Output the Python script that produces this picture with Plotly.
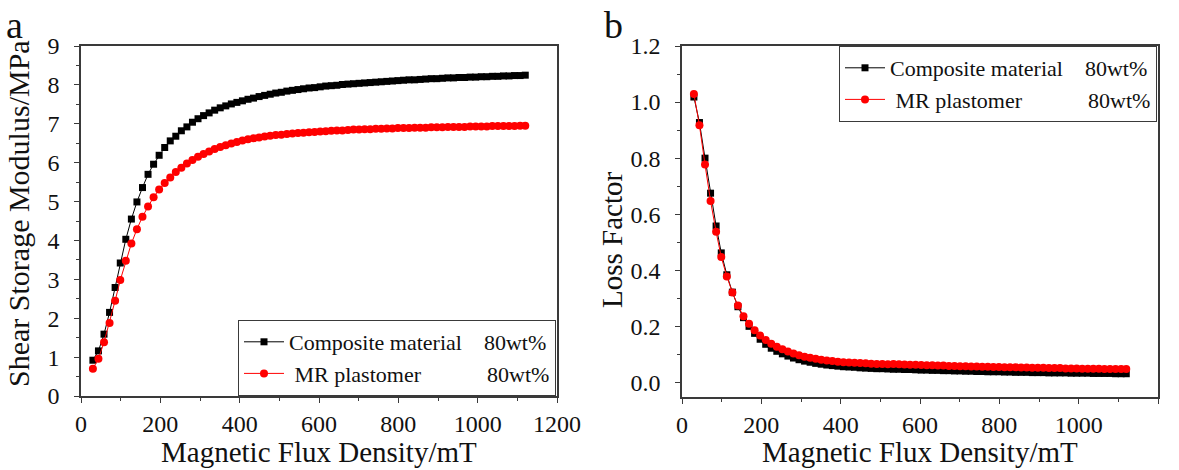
import plotly.graph_objects as go

# Magnetic flux density sweep (mT)
flux_density = [30, 44, 58, 72, 86, 99, 113, 127, 141, 155, 169, 183, 197, 211, 225, 239,
                253, 267, 281, 295, 309, 323, 337, 351, 365, 379, 393, 407, 421, 435, 449,
                463, 477, 491, 505, 519, 533, 547, 561, 575, 589, 603, 617, 631, 645, 659,
                673, 687, 701, 715, 729, 743, 757, 771, 785, 799, 813, 827, 841, 855, 869,
                883, 897, 911, 925, 939, 953, 967, 981, 995, 1009, 1023, 1037, 1051, 1065,
                1079, 1093, 1107, 1120]

# Shear storage modulus (MPa)
modulus_composite = [0.92, 1.16, 1.59, 2.15, 2.79, 3.42, 4.03, 4.55, 4.99, 5.36, 5.70, 5.96,
                     6.19, 6.39, 6.56, 6.68, 6.82, 6.92, 7.04, 7.13, 7.21, 7.28, 7.35, 7.41,
                     7.46, 7.51, 7.55, 7.59, 7.63, 7.66, 7.70, 7.73, 7.76, 7.79, 7.81, 7.84,
                     7.86, 7.88, 7.90, 7.92, 7.93, 7.95, 7.97, 7.98, 7.99, 8.01, 8.02, 8.03,
                     8.04, 8.05, 8.06, 8.07, 8.08, 8.09, 8.10, 8.11, 8.12, 8.13, 8.13, 8.14,
                     8.15, 8.16, 8.16, 8.17, 8.18, 8.18, 8.19, 8.19, 8.20, 8.20, 8.21, 8.21,
                     8.22, 8.22, 8.23, 8.23, 8.24, 8.24, 8.25]
modulus_plastomer = [0.70, 0.96, 1.38, 1.88, 2.45, 2.98, 3.48, 3.92, 4.29, 4.61, 4.87, 5.11,
                     5.31, 5.48, 5.62, 5.76, 5.87, 5.98, 6.07, 6.15, 6.22, 6.29, 6.35, 6.40,
                     6.45, 6.49, 6.53, 6.57, 6.60, 6.63, 6.65, 6.67, 6.69, 6.71, 6.72, 6.74,
                     6.75, 6.76, 6.77, 6.78, 6.79, 6.80, 6.81, 6.82, 6.83, 6.83, 6.84, 6.85,
                     6.85, 6.86, 6.86, 6.87, 6.87, 6.88, 6.88, 6.89, 6.89, 6.89, 6.90, 6.90,
                     6.90, 6.91, 6.91, 6.91, 6.92, 6.92, 6.92, 6.92, 6.93, 6.93, 6.93, 6.93,
                     6.94, 6.94, 6.94, 6.94, 6.94, 6.95, 6.95]

# Loss factor
loss_composite = [1.018, 0.927, 0.800, 0.675, 0.558, 0.462, 0.384, 0.322, 0.270, 0.231,
                  0.200, 0.175, 0.154, 0.136, 0.122, 0.111, 0.102, 0.094, 0.087, 0.081,
                  0.076, 0.072, 0.068, 0.065, 0.062, 0.060, 0.058, 0.056, 0.055, 0.054,
                  0.052, 0.051, 0.050, 0.049, 0.049, 0.048, 0.047, 0.047, 0.046, 0.046,
                  0.045, 0.044, 0.044, 0.043, 0.043, 0.042, 0.042, 0.041, 0.041, 0.040,
                  0.040, 0.039, 0.039, 0.038, 0.038, 0.038, 0.037, 0.037, 0.036, 0.036,
                  0.036, 0.035, 0.035, 0.035, 0.034, 0.034, 0.034, 0.034, 0.033, 0.033,
                  0.033, 0.033, 0.032, 0.032, 0.032, 0.032, 0.031, 0.031, 0.031]
loss_plastomer = [1.029, 0.917, 0.777, 0.647, 0.537, 0.447, 0.378, 0.321, 0.274, 0.236,
                  0.209, 0.186, 0.167, 0.151, 0.138, 0.127, 0.118, 0.110, 0.103, 0.097,
                  0.092, 0.088, 0.084, 0.081, 0.078, 0.076, 0.074, 0.072, 0.071, 0.070,
                  0.069, 0.068, 0.067, 0.066, 0.066, 0.065, 0.066, 0.065, 0.064, 0.063,
                  0.063, 0.062, 0.061, 0.061, 0.060, 0.060, 0.059, 0.059, 0.058, 0.058,
                  0.057, 0.057, 0.056, 0.056, 0.055, 0.055, 0.054, 0.054, 0.054, 0.053,
                  0.053, 0.052, 0.052, 0.052, 0.051, 0.051, 0.051, 0.050, 0.050, 0.050,
                  0.049, 0.049, 0.049, 0.049, 0.048, 0.048, 0.048, 0.048, 0.048]

x_ticks = [0, 200, 400, 600, 800, 1000, 1200]
NB = "\u00a0"
name_composite = "Composite material" + NB * 4 + "80wt%"
name_plastomer = NB + "MR plastomer" + NB * 12 + "80wt%"

FONT = "Liberation Serif"
AX = "#3a3a3a"

fig = go.Figure()

style_black = dict(mode="lines+markers", line=dict(color="black", width=1),
                   marker=dict(symbol="square", size=7, color="black"))
style_red = dict(mode="lines+markers", line=dict(color="#ff0000", width=1),
                 marker=dict(symbol="circle", size=8, color="#ff0000"))

fig.add_trace(go.Scatter(x=flux_density, y=modulus_composite, name=name_composite,
                         xaxis="x", yaxis="y", legend="legend", **style_black))
fig.add_trace(go.Scatter(x=flux_density, y=modulus_plastomer, name=name_plastomer,
                         xaxis="x", yaxis="y", legend="legend", **style_red))
fig.add_trace(go.Scatter(x=flux_density, y=loss_composite, name=name_composite,
                         xaxis="x2", yaxis="y2", legend="legend2", **style_black))
fig.add_trace(go.Scatter(x=flux_density, y=loss_plastomer, name=name_plastomer,
                         xaxis="x2", yaxis="y2", legend="legend2", **style_red))

W, H = 1179, 470


def px_x(p):
    return p / W


def px_y(p):
    return 1 - p / H


axis_common = dict(showline=True, linecolor=AX, linewidth=1.5, mirror=True,
                   ticks="outside", ticklen=5, tickwidth=1.2, tickcolor=AX,
                   showgrid=False, zeroline=False, automargin=False,
                   tickfont=dict(family=FONT, size=24, color="#111"))

legend_common = dict(bgcolor="white", bordercolor=AX, borderwidth=1, itemwidth=40,
                     font=dict(family=FONT, size=22, color="#111"), tracegroupgap=0)

fig.update_layout(
    width=W, height=H,
    margin=dict(l=0, r=0, t=0, b=0),
    paper_bgcolor="white", plot_bgcolor="white",
    font=dict(family=FONT, color="#111"),
    xaxis=dict(domain=[px_x(81), px_x(557)], range=[0, 1200], tickvals=x_ticks,
               minor=dict(dtick=100, ticks="outside", ticklen=3, tickcolor=AX),
               anchor="y", **axis_common),
    yaxis=dict(domain=[px_y(396), px_y(46)], range=[0, 9], dtick=1, ticklabelstandoff=10,
               minor=dict(dtick=0.5, ticks="outside", ticklen=3, tickcolor=AX),
               anchor="x", **axis_common),
    xaxis2=dict(domain=[px_x(682), px_x(1158)], range=[0, 1200], tickvals=x_ticks,
                minor=dict(dtick=100, ticks="outside", ticklen=3, tickcolor=AX),
                anchor="y2", **axis_common),
    yaxis2=dict(domain=[px_y(397), px_y(46)], range=[-0.052, 1.2],
                tickvals=[0, 0.2, 0.4, 0.6, 0.8, 1.0, 1.2], tickformat=".1f", ticklabelstandoff=10,
                minor=dict(tickvals=[0.1, 0.3, 0.5, 0.7, 0.9, 1.1], ticks="outside", ticklen=3, tickcolor=AX),
                anchor="x2", **axis_common),
    legend=dict(x=px_x(556), y=px_y(396), xanchor="right", yanchor="bottom", **legend_common),
    legend2=dict(x=px_x(1157), y=px_y(46), xanchor="right", yanchor="top", **legend_common),
)

annotations = [
    dict(text="a", x=px_x(15), y=px_y(25), font=dict(size=38)),
    dict(text="b", x=px_x(613), y=px_y(25), font=dict(size=38)),
    dict(text="Magnetic Flux Density/mT", x=px_x(319), y=px_y(452), font=dict(size=29)),
    dict(text="Magnetic Flux Density/mT", x=px_x(920), y=px_y(452), font=dict(size=29)),
    dict(text="Shear Storage Modulus/MPa", x=px_x(18), y=px_y(214), textangle=-90, font=dict(size=30)),
    dict(text="Loss Factor", x=px_x(612), y=px_y(240), textangle=-90, font=dict(size=29)),
]
for a in annotations:
    a.update(xref="paper", yref="paper", showarrow=False, xanchor="center", yanchor="middle")
    a["font"] = dict(family=FONT, color="#111", **a["font"])
fig.update_layout(annotations=annotations)

fig.write_html("out.html")
